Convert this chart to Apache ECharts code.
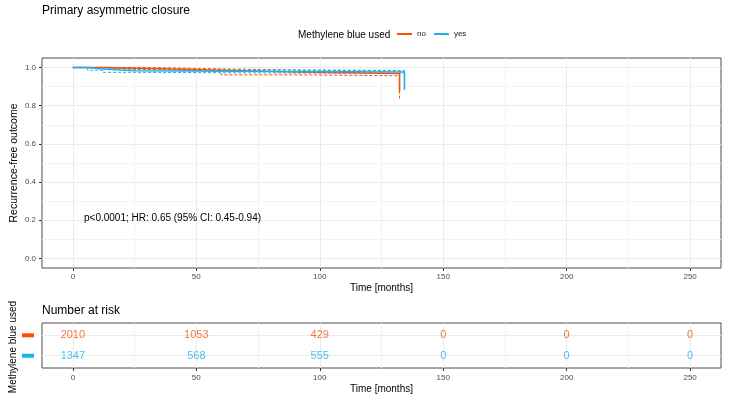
<!DOCTYPE html>
<html><head><meta charset="utf-8">
<script src="https://cdn.jsdelivr.net/npm/echarts@6/dist/echarts.min.js"></script>
<style>html,body{margin:0;padding:0;background:#fff}#c{width:730px;height:400px}</style>
</head><body><div id="c"></div>
<script>
// ---- data ----
const groups = ['no', 'yes'];
const groupColors = ['#FC4E07', '#1AB2F0'];
const noTime  = [0, 14, 24, 37, 60, 90, 132.3];
const noSurv  = [1, 0.997, 0.994, 0.986, 0.977, 0.969, 0.873];
const noLower = [1, 0.993, 0.989, 0.980, 0.962, 0.957, 0.830];
const noUpper = [1, 1.000, 0.999, 0.993, 0.987, 0.982, 0.915];
const yesTime  = [0, 6, 12, 25, 134.3];
const yesSurv  = [1, 0.992, 0.983, 0.977, 0.884];
const yesLower = [1, 0.986, 0.975, 0.969, 0.872];
const yesUpper = [1, 0.997, 0.990, 0.985, 0.930];
const riskTimes = [0, 50, 100, 150, 200, 250];
const riskNo  = [2010, 1053, 429, 0, 0, 0];
const riskYes = [1347, 568, 555, 0, 0, 0];
const xTicks = [0, 50, 100, 150, 200, 250];
const yTicks = [0, 0.2, 0.4, 0.6, 0.8, 1.0];
const riskRows = [1, 2];

// ---- layout ----
const FONT = 'Liberation Sans, Arial, sans-serif';
const PL = 42, PW = 679;
const MT = 58, MH = 210;
const RT = 323, RH = 45;
const pxPerMonth = PW / 275;
const gxLeft = PL + 12.5 * pxPerMonth, gxWidth = 250 * pxPerMonth;
const myUnit = MH / 1.1;
const ryUnit = RH / 2.2;

const pair = (t, v) => t.map((x, i) => [x, v[i]]);
const gridColors = ['#EBEBEB', '#F3F3F3'];

function stepSeries(name, t, v, color, dashed) {
  return {
    type: 'line', name: name, xAxisIndex: 0, yAxisIndex: 0,
    data: pair(t, v), step: 'end', showSymbol: false, symbol: 'none',
    color: color, animation: false, silent: true,
    lineStyle: { color: color, width: dashed ? 1 : 1.6, type: dashed ? [3, 2] : 'solid' },
    z: dashed ? 3 : 4
  };
}
function riskSeries(name, vals, row, color) {
  return {
    type: 'scatter', name: name + '_risk', xAxisIndex: 1, yAxisIndex: 1,
    data: riskTimes.map((t, i) => [t, row, vals[i]]),
    symbolSize: 1, itemStyle: { color: 'rgba(0,0,0,0)' }, animation: false, silent: true,
    label: { show: true, position: 'inside', formatter: p => String(p.value[2]),
      color: color, fontSize: 11, fontFamily: FONT }
  };
}
const tickStyle = { color: '#333333', width: 1 };
const labelStyle = { fontSize: 8, color: '#4D4D4D', fontFamily: FONT };
const noLine = { show: false, onZero: false };
const gridBase = { outerBoundsMode: 'none', containLabel: false };

const option = {
  backgroundColor: '#ffffff',
  animation: false,
  textStyle: { fontFamily: FONT },
  legend: {
    data: groups, left: 397, top: 30, padding: 0, itemWidth: 15, itemHeight: 2, itemGap: 8,
    icon: 'rect', selectedMode: false,
    textStyle: { fontSize: 8, color: '#1A1A1A', fontFamily: FONT }
  },
  grid: [
    Object.assign({ left: PL, top: MT, width: PW, height: MH, show: true, borderColor: '#4D4D4D', borderWidth: 1, backgroundColor: 'transparent' }, gridBase),
    Object.assign({ left: PL, top: RT, width: PW, height: RH, show: true, borderColor: '#4D4D4D', borderWidth: 1, backgroundColor: 'transparent' }, gridBase),
    Object.assign({ left: gxLeft, top: MT, width: gxWidth, height: MH }, gridBase),
    Object.assign({ left: PL, top: MT + 0.05 * myUnit, width: PW, height: myUnit }, gridBase),
    Object.assign({ left: gxLeft, top: RT, width: gxWidth, height: RH }, gridBase),
    Object.assign({ left: PL, top: RT + 0.6 * ryUnit, width: PW, height: ryUnit }, gridBase)
  ],
  xAxis: [
    { gridIndex: 0, type: 'value', min: -12.5, max: 262.5,
      axisLine: noLine, splitLine: { show: false },
      axisTick: { show: true, customValues: xTicks, length: 3, lineStyle: tickStyle },
      axisLabel: Object.assign({ show: true, customValues: xTicks, margin: 5 }, labelStyle),
      name: 'Time [months]', nameLocation: 'middle', nameGap: 15, nameMoveOverlap: false,
      nameTextStyle: { fontSize: 10, color: '#000', fontFamily: FONT } },
    { gridIndex: 1, type: 'value', min: -12.5, max: 262.5,
      axisLine: noLine, splitLine: { show: false },
      axisTick: { show: true, customValues: xTicks, length: 3, lineStyle: tickStyle },
      axisLabel: Object.assign({ show: true, customValues: xTicks, margin: 5.5 }, labelStyle),
      name: 'Time [months]', nameLocation: 'middle', nameGap: 16, nameMoveOverlap: false,
      nameTextStyle: { fontSize: 10, color: '#000', fontFamily: FONT } },
    { gridIndex: 2, type: 'value', min: 0, max: 250, interval: 25,
      axisLine: noLine, axisTick: { show: false }, axisLabel: { show: false },
      splitLine: { show: true, lineStyle: { color: gridColors, width: 1 } } },
    { gridIndex: 3, type: 'value', min: 0, max: 1, show: false, axisLine: noLine },
    { gridIndex: 4, type: 'value', min: 0, max: 250, interval: 25,
      axisLine: noLine, axisTick: { show: false }, axisLabel: { show: false },
      splitLine: { show: true, lineStyle: { color: gridColors, width: 1 } } },
    { gridIndex: 5, type: 'value', min: 0, max: 1, show: false, axisLine: noLine }
  ],
  yAxis: [
    { gridIndex: 0, type: 'value', min: -0.05, max: 1.05,
      axisLine: noLine, splitLine: { show: false },
      axisTick: { show: true, customValues: yTicks, length: 3, lineStyle: tickStyle },
      axisLabel: Object.assign({ show: true, customValues: yTicks, margin: 6, formatter: v => v.toFixed(1) }, labelStyle),
      name: 'Recurrence-free outcome', nameLocation: 'middle', nameGap: 22, nameMoveOverlap: false,
      nameTextStyle: { fontSize: 10.5, color: '#000', fontFamily: FONT } },
    { gridIndex: 1, type: 'value', min: 0.4, max: 2.6, inverse: true,
      axisLine: noLine, splitLine: { show: false }, axisTick: { show: false },
      axisLabel: { show: true, customValues: riskRows, margin: 8,
        formatter: v => (v === 1 ? '{a| }' : '{b| }'),
        rich: {
          a: { width: 12, height: 4, backgroundColor: groupColors[0], fontSize: 4, lineHeight: 4 },
          b: { width: 12, height: 4, backgroundColor: groupColors[1], fontSize: 4, lineHeight: 4 }
        } } },
    { gridIndex: 2, type: 'value', min: 0, max: 1, show: false, axisLine: noLine },
    { gridIndex: 3, type: 'value', min: 0, max: 1, interval: 0.1,
      axisLine: noLine, axisTick: { show: false }, axisLabel: { show: false },
      splitLine: { show: true, lineStyle: { color: gridColors, width: 1 } } },
    { gridIndex: 4, type: 'value', min: 0, max: 1, show: false, axisLine: noLine },
    { gridIndex: 5, type: 'value', min: 1, max: 2, interval: 1,
      axisLine: noLine, axisTick: { show: false }, axisLabel: { show: false },
      splitLine: { show: true, lineStyle: { color: '#EBEBEB', width: 1 } } }
  ],
  series: [
    stepSeries('no_lower', noTime, noLower, groupColors[0], true),
    stepSeries('no_upper', noTime, noUpper, groupColors[0], true),
    stepSeries('no', noTime, noSurv, groupColors[0], false),
    stepSeries('yes_lower', yesTime, yesLower, groupColors[1], true),
    stepSeries('yes_upper', yesTime, yesUpper, groupColors[1], true),
    stepSeries('yes', yesTime, yesSurv, groupColors[1], false),
    riskSeries('no', riskNo, riskRows[0], groupColors[0]),
    riskSeries('yes', riskYes, riskRows[1], groupColors[1])
  ],
  graphic: [
    { type: 'text', x: 42, y: 11, style: { text: 'Primary asymmetric closure', font: '12px ' + FONT, fill: '#000', verticalAlign: 'middle' } },
    { type: 'text', x: 298, y: 35, style: { text: 'Methylene blue used', font: '10px ' + FONT, fill: '#000', verticalAlign: 'middle' } },
    { type: 'text', x: 84, y: 218.5, z: 10, style: { text: 'p<0.0001; HR: 0.65 (95% CI: 0.45-0.94)', font: '10px ' + FONT, fill: '#000', verticalAlign: 'middle' } },
    { type: 'text', x: 42, y: 311, style: { text: 'Number at risk', font: '12px ' + FONT, fill: '#000', verticalAlign: 'middle' } },
    { type: 'text', x: 13, y: 347, rotation: Math.PI / 2, style: { text: 'Methylene blue used', font: '10px ' + FONT, fill: '#000', align: 'center', verticalAlign: 'middle' } }
  ]
};
const chart = echarts.init(document.getElementById('c'), null, { renderer: 'canvas' });
chart.setOption(option);
</script>
</body></html>
